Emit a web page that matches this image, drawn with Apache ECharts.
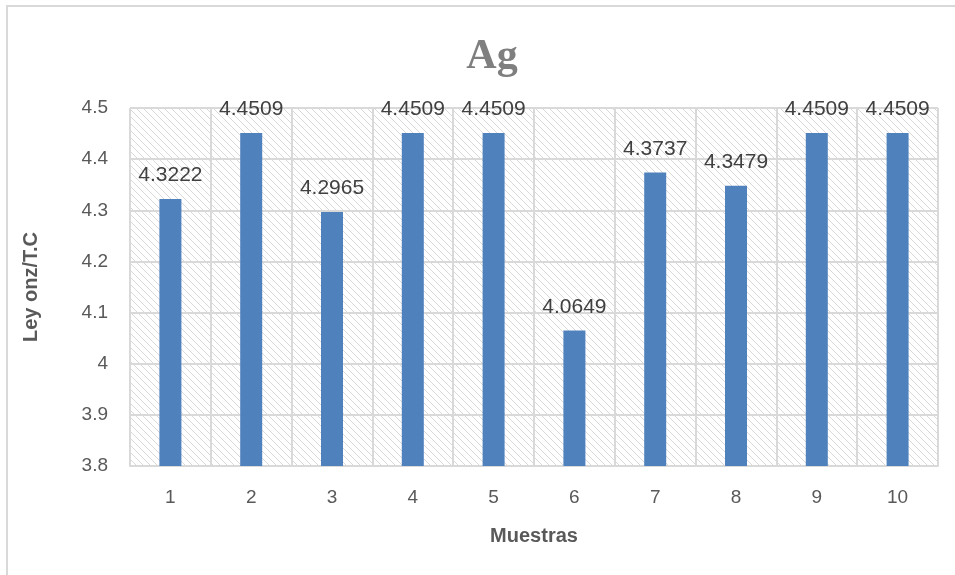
<!DOCTYPE html>
<html>
<head>
<meta charset="utf-8">
<script src="https://cdn.jsdelivr.net/npm/echarts@6/dist/echarts.min.js"></script>
<style>
  html, body { margin: 0; padding: 0; background: #fff; }
  #chart { width: 955px; height: 575px; }
</style>
</head>
<body>
<div id="chart"></div>
<script>
// Sample numbers and silver grade per sample (oz/T.C)
const muestras = ['1', '2', '3', '4', '5', '6', '7', '8', '9', '10'];
const leyAg = [4.3222, 4.4509, 4.2965, 4.4509, 4.4509, 4.0649, 4.3737, 4.3479, 4.4509, 4.4509];
const yTicks = { min: 3.8, max: 4.5, step: 0.1 };

// Diagonal hatch used as plot-area background
function hatchPattern() {
  const c = document.createElement('canvas');
  const s = 7;
  c.width = s; c.height = s;
  const ctx = c.getContext('2d');
  ctx.fillStyle = '#ffffff';
  ctx.fillRect(0, 0, s, s);
  ctx.strokeStyle = '#d9d9d9';
  ctx.lineWidth = 1;
  ctx.beginPath();
  ctx.moveTo(-1, -1); ctx.lineTo(s + 1, s + 1);
  ctx.moveTo(-1, s - 1); ctx.lineTo(1, s + 1);
  ctx.moveTo(s - 1, -1); ctx.lineTo(s + 1, 1);
  ctx.stroke();
  return c;
}

const chart = echarts.init(document.getElementById('chart'), null, { renderer: 'canvas' });

chart.setOption({
  animation: false,
  backgroundColor: '#ffffff',
  graphic: [{
    type: 'rect',
    shape: { x: 7, y: 6, width: 1000, height: 1000 },
    style: { fill: 'none', stroke: '#d9d9d9', lineWidth: 2 },
    silent: true
  }],
  title: {
    text: 'Ag',
    left: 487,
    top: 31,
    textAlign: 'center',
    textStyle: {
      fontFamily: 'Liberation Serif',
      fontWeight: 'bold',
      fontSize: 42,
      color: '#7f7f7f'
    }
  },
  grid: {
    left: 130,
    right: 17,
    top: 108,
    bottom: 109,
    show: true,
    borderWidth: 0,
    backgroundColor: { image: hatchPattern(), repeat: 'repeat' }
  },
  xAxis: {
    type: 'category',
    data: muestras,
    name: 'Muestras',
    nameLocation: 'middle',
    nameGap: 60,
    nameTextStyle: { fontFamily: 'Liberation Sans', fontWeight: 'bold', fontSize: 20, color: '#595959' },
    axisLine: { show: true, lineStyle: { color: '#d9d9d9', width: 2 } },
    axisTick: { show: false },
    axisLabel: { margin: 22, fontFamily: 'Liberation Sans', fontSize: 19, color: '#595959' },
    splitLine: { show: true, lineStyle: { color: '#d9d9d9', width: 2 } }
  },
  yAxis: {
    type: 'value',
    min: yTicks.min,
    max: yTicks.max,
    interval: yTicks.step,
    name: 'Ley onz/T.C',
    nameLocation: 'middle',
    nameGap: 89,
    nameTextStyle: { fontFamily: 'Liberation Sans', fontWeight: 'bold', fontSize: 20, color: '#595959' },
    axisLine: { show: false },
    axisTick: { show: false },
    axisLabel: {
      margin: 22,
      fontFamily: 'Liberation Sans',
      fontSize: 19,
      color: '#595959',
      formatter: v => String(Math.round(v * 10) / 10)
    },
    splitLine: { show: true, lineStyle: { color: '#d9d9d9', width: 2 } }
  },
  series: [{
    type: 'bar',
    data: leyAg,
    barWidth: 22,
    itemStyle: { color: '#4f81bd' },
    label: {
      show: true,
      position: 'top',
      distance: 13,
      fontFamily: 'Liberation Sans',
      fontSize: 21,
      color: '#404040',
      formatter: p => String(p.value)
    }
  }]
});
</script>
</body>
</html>
